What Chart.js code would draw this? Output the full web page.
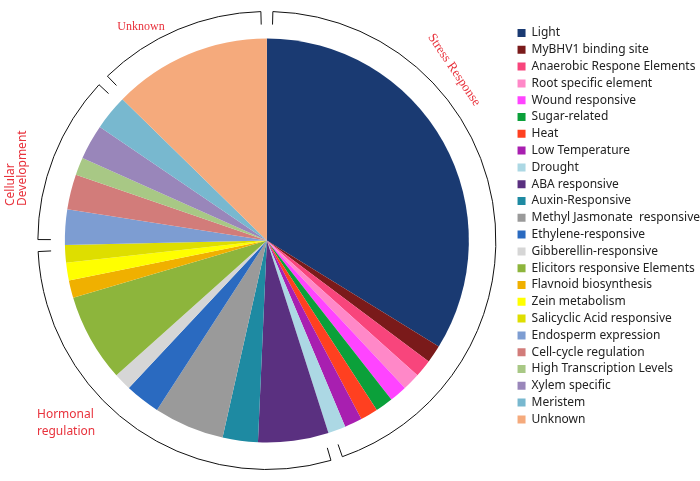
<!DOCTYPE html>
<html>
<head>
<meta charset="utf-8">
<style>
html, body { margin: 0; padding: 0; background: #fff; }
#wrap { width: 700px; height: 481px; }
</style>
</head>
<body>
<div id="wrap"><canvas id="motifChart"></canvas></div>
<script src="https://cdn.jsdelivr.net/npm/chart.js@4/dist/chart.umd.min.js"></script>
<script>
const categories = [
    'Light', 'MyBHV1 binding site', 'Anaerobic Respone Elements', 'Root specific element',
    'Wound responsive', 'Sugar-related', 'Heat', 'Low Temperature', 'Drought',
    'ABA responsive', 'Auxin-Responsive', 'Methyl Jasmonate  responsive', 'Ethylene-responsive',
    'Gibberellin-responsive', 'Elicitors responsive Elements', 'Flavnoid biosynthesis',
    'Zein metabolism', 'Salicyclic Acid responsive', 'Endosperm expression',
    'Cell-cycle regulation', 'High Transcription Levels', 'Xylem specific', 'Meristem', 'Unknown'
];
const counts = [24, 1, 1, 1, 1, 1, 1, 1, 1, 4, 2, 4, 2, 1, 5, 1, 1, 1, 2, 2, 1, 2, 2, 9];
const colors = [
    '#1a3a72', '#7a1a1a', '#f8457c', '#ff88c8', '#ff44ff', '#0ba03a', '#ff4020', '#a81fb0',
    '#acd8e4', '#5a3080', '#1e8aa2', '#9a9a9a', '#2a6ac0', '#d6d6d6', '#8db53c', '#f0b000',
    '#ffff00', '#dede00', '#7d9dd2', '#d27c7a', '#a8c885', '#9986ba', '#78b8cf', '#f5aa7c'
];
// groups of consecutive categories marked by the outer brackets
const groupNames = ['Stress Response', 'Hormonal regulation', 'Cellular Development', 'Unknown'];
const groupSizes = [9, 9, 5, 1];

const red = '#e8323c';

const bracketPlugin = {
    id: 'brackets',
    afterDatasetsDraw(chart) {
        const arcs = chart.getDatasetMeta(0).data;
        if (!arcs.length) return;
        const ctx = chart.ctx;
        const cx = arcs[0].x, cy = arcs[0].y;
        const r = arcs[0].outerRadius + 27;
        const tick = 13;
        const gap = 1.5 * Math.PI / 180;

        ctx.save();
        ctx.strokeStyle = '#111';
        ctx.lineWidth = 1;
        let i = 0;
        groupSizes.forEach(size => {
            const a0 = arcs[i].startAngle + gap;
            const a1 = arcs[i + size - 1].endAngle - gap;
            i += size;
            ctx.beginPath();
            ctx.moveTo(cx + (r - tick) * Math.cos(a0), cy + (r - tick) * Math.sin(a0));
            ctx.lineTo(cx + r * Math.cos(a0), cy + r * Math.sin(a0));
            ctx.arc(cx, cy, r, a0, a1);
            ctx.lineTo(cx + (r - tick) * Math.cos(a1), cy + (r - tick) * Math.sin(a1));
            ctx.stroke();
        });

        ctx.fillStyle = red;
        ctx.textBaseline = 'middle';

        ctx.font = '12px "Liberation Serif", serif';
        ctx.textAlign = 'center';
        ctx.fillText(groupNames[3], 141, 27);

        ctx.save();
        ctx.translate(454, 70);
        ctx.rotate(56 * Math.PI / 180);
        ctx.font = '13px "Liberation Serif", serif';
        ctx.fillText(groupNames[0], 0, 0);
        ctx.restore();

        ctx.font = '12px "Noto Sans", sans-serif';
        ctx.textAlign = 'left';
        ctx.save();
        ctx.translate(11, 206);
        ctx.rotate(-Math.PI / 2);
        ctx.fillText('Cellular', 0, 0);
        ctx.fillText('Development', 0, 12);
        ctx.restore();

        ctx.fillText('Hormonal', 37, 415);
        ctx.fillText('regulation', 37, 432);
        ctx.restore();
    }
};

const chart = new Chart(document.getElementById('motifChart'), {
    type: 'pie',
    data: {
        labels: categories,
        datasets: [{
            data: counts,
            backgroundColor: colors,
            borderWidth: 0,
            radius: 202
        }]
    },
    options: {
        responsive: true,
        maintainAspectRatio: false,
        animation: false,
        layout: {
            padding: { left: 21, right: -10, top: 0, bottom: 0 }
        },
        plugins: {
            legend: {
                position: 'right',
                align: 'start',
                title: {
                    display: true,
                    text: '',
                    padding: { top: 7.8, bottom: 0 },
                    font: { size: 12 }
                },
                labels: {
                    boxWidth: 8,
                    boxHeight: 8,
                    padding: 4.8,
                    color: '#222',
                    font: { family: "'Noto Sans', sans-serif", size: 12 }
                }
            },
            tooltip: { enabled: false }
        }
    },
    plugins: [bracketPlugin]
});
</script>
</body>
</html>
